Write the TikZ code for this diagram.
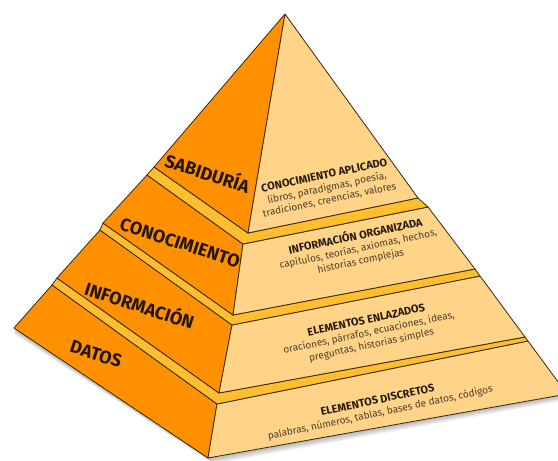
\documentclass[tikz,border=0pt]{standalone}
\usepackage{fontspec}
\setmainfont{Fira Sans}
\definecolor{naranja}{HTML}{FF9100}
\definecolor{crema}{HTML}{FFD488}
\definecolor{franja}{HTML}{FFBE2E}
\definecolor{borde}{HTML}{3A2810}
\definecolor{tinta}{HTML}{221608}
\definecolor{gris}{HTML}{4A3E2E}
\newcommand{\titulo}[1]{{\fontsize{11}{12.5}\selectfont\bfseries\color{tinta!85!gris}#1}}
\begin{document}
\begin{tikzpicture}[x=1pt,y=-1pt,
		cara/.style={draw=borde,line width=0.8pt,line join=round},
		izq/.style={cara,fill=naranja},
		der/.style={cara,fill=crema},
		banda/.style={cara,fill=franja},
		etiqueta/.style={text=tinta,font=\fontsize{18}{18}\selectfont\bfseries,rotate=-18},
		nota/.style={text=gris,align=center,rotate=12,font=\fontsize{10}{12.5}\selectfont}]
		\useasboundingbox (0,0) rectangle (558,461);
		\clip (0,0) rectangle (558,461);

		% esquinas de cada bloque
		\coordinate (cima) at (285,14);
		\coordinate (sab-L) at (154,167);
		\coordinate (sab-F) at (248,233);
		\coordinate (sab-R) at (418,198);
		\coordinate (con-tL) at (147,175);
		\coordinate (con-tF) at (243,244);
		\coordinate (con-tR) at (428,207);
		\coordinate (con-bL) at (103,223);
		\coordinate (con-bF) at (233,315);
		\coordinate (con-bR) at (475,269);
		\coordinate (inf-tL) at (100,230);
		\coordinate (inf-tF) at (232,325);
		\coordinate (inf-tR) at (480,276);
		\coordinate (inf-bL) at (57,278);
		\coordinate (inf-bF) at (219,393);
		\coordinate (inf-bR) at (525,337);
		\coordinate (dat-tL) at (52,285);
		\coordinate (dat-tF) at (217,404);
		\coordinate (dat-tR) at (528,341);
		\coordinate (dat-bL) at (14,328);
		\coordinate (dat-bF) at (208,458);
		\coordinate (dat-bR) at (567,394);

		% sombra
		\foreach \s in {1,...,6}
			\fill[black,opacity=0.05] ([yshift=-\s pt]dat-bL) -- ([xshift=\s pt,yshift=-\s pt]dat-bF) -- ([yshift=-\s pt]dat-bR) -- (dat-tR) -- (dat-tL) -- cycle;

		% datos
		\draw[izq] (dat-tL) -- (dat-tF) -- (dat-bF) -- (dat-bL) -- cycle;
		\draw[der] (dat-tF) -- (dat-tR) -- (dat-bR) -- (dat-bF) -- cycle;
		\draw[banda] (dat-tL) -- (dat-tF) -- (dat-tR) -- (inf-bR) -- (inf-bF) -- (inf-bL) -- cycle;
		% informacion
		\draw[izq] (inf-tL) -- (inf-tF) -- (inf-bF) -- (inf-bL) -- cycle;
		\draw[der] (inf-tF) -- (inf-tR) -- (inf-bR) -- (inf-bF) -- cycle;
		\draw[banda] (inf-tL) -- (inf-tF) -- (inf-tR) -- (con-bR) -- (con-bF) -- (con-bL) -- cycle;
		% conocimiento
		\draw[izq] (con-tL) -- (con-tF) -- (con-bF) -- (con-bL) -- cycle;
		\draw[der] (con-tF) -- (con-tR) -- (con-bR) -- (con-bF) -- cycle;
		\draw[banda] (con-tL) -- (con-tF) -- (con-tR) -- (sab-R) -- (sab-F) -- (sab-L) -- cycle;
		% sabiduria
		\draw[izq] (cima) -- (sab-F) -- (sab-L) -- cycle;
		\draw[der] (cima) -- (sab-R) -- (sab-F) -- cycle;

		% rotulos
		\node[etiqueta] (sabiduria) at (208,172) {SABIDURÍA};
		\node[etiqueta] (conocimiento) at (180,243) {CONOCIMIENTO};
		\node[etiqueta] (informacion) at (140,304) {INFORMACIÓN};
		\node[etiqueta] (datos) at (96,354) {DATOS};

		\node[nota] (aplicado) at (327,188) {\titulo{CONOCIMIENTO APLICADO}\\libros, paradigmas, poesía,\\tradiciones, creencias, valores};
		\node[nota] (organizada) at (358,248) {\titulo{INFORMACIÓN ORGANIZADA}\\capítulos, teorías, axiomas, hechos,\\historias complejas};
		\node[nota] (enlazados) at (369,333) {\titulo{ELEMENTOS ENLAZADOS}\\oraciones, párrafos, ecuaciones, ideas,\\preguntas, historias simples};
		\node[nota] (discretos) at (379,407) {\titulo{ELEMENTOS DISCRETOS}\\palabras, números, tablas, bases de datos, códigos};
	\end{tikzpicture}
\end{document}
